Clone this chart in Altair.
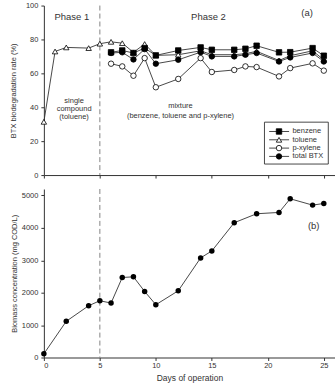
import altair as alt
import pandas as pd

# ---- data ----
days = [0, 1, 2, 4, 5, 6, 7, 8, 9, 10, 12, 14, 15, 17, 18, 19, 21, 22, 24, 25]
toluene = [31.4, 72.9, 75.3, 74.9, 77.5, 78.6, 77.8, 72.4, 77.3, 70.6, 71.0, 73.3,
           71.0, 71.0, 71.6, 73.0, 67.6, 70.4, 73.3, 68.0]
mix_days = [6, 7, 8, 9, 10, 12, 14, 15, 17, 18, 19, 21, 22, 24, 25]
benzene = [72.4, 73.5, 72.0, 74.9, 70.6, 73.5, 75.3, 73.9, 73.9, 74.5, 76.3, 72.4, 72.5, 74.9, 70.4]
pxylene = [65.7, 64.1, 58.6, 69.0, 51.8, 56.7, 69.0, 60.8, 62.0, 64.1, 63.7, 58.2, 63.1, 65.9, 61.6]
total_btx = [72.0, 72.4, 68.2, 74.3, 65.7, 68.0, 72.5, 70.0, 70.0, 71.0, 72.0, 67.0, 69.4, 72.0, 67.0]

bio_days = [0, 2, 4, 5, 6, 7, 8, 9, 10, 12, 14, 15, 17, 19, 21, 22, 24, 25]
biomass = [113, 1117, 1598, 1752, 1680, 2469, 2490, 2039, 1629, 2059, 3074, 3289,
           4160, 4436, 4477, 4898, 4703, 4754]

series_names = ["benzene", "toluene", "p-xylene", "total BTX"]
point_shapes = ["square", "triangle-up", "circle", "circle"]
point_fills = ["black", "white", "white", "black"]

phase_day = [5]

top_text = ["Phase 1", "Phase 2", "(a)"]
top_text_x = [2.5, 14.7, 23.5]
top_text_y = [93, 93, 95.5]
note_lines = ["single", "compound", "(toluene)", "mixture", "(benzene, toluene and p-xylene)"]
note_x = [2.7, 2.7, 2.7, 12.2, 12.2]
note_y = [43.5, 38.8, 34.1, 40.6, 34.7]
bottom_text = ["(b)"]
bottom_text_x = [24.1]
bottom_text_y = [4050]

# legend layout (in the top panel's data units)
LEG_BOX = (19.7, 25.4, 6.5, 31.2)      # day0, day1, rate0, rate1
LEG_ROW0, LEG_STEP = 25.7, 4.9
LEG_LINE = (20.12, 21.9)
LEG_MARK = 21.0
LEG_TEXT = 22.2

# ---- tables ----
rows = []
for d, v in zip(days, toluene):
    rows.append({"day": d, "rate": v, "series": "toluene"})
for name, vals in [("benzene", benzene), ("p-xylene", pxylene), ("total BTX", total_btx)]:
    for d, v in zip(mix_days, vals):
        rows.append({"day": d, "rate": v, "series": name})
top_df = pd.DataFrame(rows)
bio_df = pd.DataFrame({"day": bio_days, "biomass": biomass})
phase_df = pd.DataFrame({"day": phase_day})
top_text_df = pd.DataFrame({"t": top_text, "day": top_text_x, "rate": top_text_y})
note_df = pd.DataFrame({"t": note_lines, "day": note_x, "rate": note_y})
bot_text_df = pd.DataFrame({"t": bottom_text, "day": bottom_text_x, "biomass": bottom_text_y})
leg_df = pd.DataFrame({
    "series": series_names,
    "rate": [LEG_ROW0 - i * LEG_STEP for i in range(len(series_names))],
    "d0": [LEG_LINE[0]] * 4, "d1": [LEG_LINE[1]] * 4,
    "dm": [LEG_MARK] * 4, "dt": [LEG_TEXT] * 4,
})
box_df = pd.DataFrame({"d0": [LEG_BOX[0]], "d1": [LEG_BOX[1]], "r0": [LEG_BOX[2]], "r1": [LEG_BOX[3]]})

FONT = "Liberation Sans"
LINE = "#333333"
TXT = "#333333"
W = 292

xscale = alt.Scale(domain=[0, 26], nice=False, zero=False)
yscale_top = alt.Scale(domain=[0, 100], nice=False)
xaxis_top = alt.Axis(values=[0, 5, 10, 15, 20, 25], labels=False, title=None, tickSize=3)
yaxis_top = alt.Axis(values=[0, 20, 40, 60, 80, 100], title="BTX biodegradation rate (%)",
                     tickSize=3, titlePadding=8, labelOverlap=False)


def xt(field):
    return alt.X(field, scale=xscale, axis=xaxis_top)


def yt(field):
    return alt.Y(field, scale=yscale_top, axis=yaxis_top)


# ---- top panel ----
shape_enc = alt.Shape("series:N", scale=alt.Scale(domain=series_names, range=point_shapes), legend=None)
fill_enc = alt.Fill("series:N", scale=alt.Scale(domain=series_names, range=point_fills), legend=None)

rule_top = alt.Chart(phase_df).mark_rule(color="#777777", strokeDash=[5, 3], strokeWidth=0.9).encode(
    x=xt("day:Q"))

lines_top = alt.Chart(top_df).mark_line(color=LINE, strokeWidth=0.9).encode(
    x=xt("day:Q"), y=yt("rate:Q"), detail="series:N")

points_top = alt.Chart(top_df).mark_point(filled=True, stroke="black", strokeWidth=0.8, size=30, opacity=1).encode(
    x=xt("day:Q"), y=yt("rate:Q"), shape=shape_enc, fill=fill_enc)

text_top = alt.Chart(top_text_df).mark_text(font=FONT, fontSize=9.5, color=TXT).encode(
    x=xt("day:Q"), y=yt("rate:Q"), text="t:N")
note_top = alt.Chart(note_df).mark_text(font=FONT, fontSize=7.5, color=TXT).encode(
    x=xt("day:Q"), y=yt("rate:Q"), text="t:N")

# legend drawn in the panel
leg_box = alt.Chart(box_df).mark_rect(fill="white", stroke=LINE, strokeWidth=0.9).encode(
    x=xt("d0:Q"), x2="d1:Q", y=yt("r0:Q"), y2="r1:Q")
leg_lines = alt.Chart(leg_df).mark_rule(color=LINE, strokeWidth=0.9).encode(
    x=xt("d0:Q"), x2="d1:Q", y=yt("rate:Q"))
leg_pts = alt.Chart(leg_df).mark_point(filled=True, stroke="black", strokeWidth=0.8, size=30, opacity=1).encode(
    x=xt("dm:Q"), y=yt("rate:Q"), shape=shape_enc, fill=fill_enc)
leg_txt = alt.Chart(leg_df).mark_text(font=FONT, fontSize=7.5, color=TXT, align="left", baseline="middle").encode(
    x=xt("dt:Q"), y=yt("rate:Q"), text="series:N")

top = alt.layer(rule_top, lines_top, points_top, text_top, note_top,
                leg_box, leg_lines, leg_pts, leg_txt).properties(width=W, height=170)

# ---- bottom panel ----
x_bot = alt.X("day:Q", scale=xscale,
              axis=alt.Axis(values=[0, 5, 10, 15, 20, 25], title="Days of operation", tickSize=3,
                            labelPadding=1, titleFontSize=8.5, titlePadding=5, labelOverlap=False))
y_bot = alt.Y("biomass:Q", scale=alt.Scale(domain=[0, 5200], nice=False),
              axis=alt.Axis(values=[0, 1000, 2000, 3000, 4000, 5000], format="d",
                            title="Biomass concentration (mg COD/L)", tickSize=3, titlePadding=3,
                            labelOverlap=False))

rule_bot = alt.Chart(phase_df).mark_rule(color="#777777", strokeDash=[5, 3], strokeWidth=0.9).encode(x=x_bot)
line_bot = alt.Chart(bio_df).mark_line(color=LINE, strokeWidth=0.9).encode(x=x_bot, y=y_bot)
pts_bot = alt.Chart(bio_df).mark_point(filled=True, color="black", size=30, opacity=1).encode(x=x_bot, y=y_bot)
text_bot = alt.Chart(bot_text_df).mark_text(font=FONT, fontSize=9.5, color=TXT).encode(
    x=x_bot, y=y_bot, text="t:N")

bottom = alt.layer(rule_bot, line_bot, pts_bot, text_bot).properties(width=W, height=169)

chart = alt.vconcat(top, bottom, spacing=9).properties(
    padding={"left": 9, "top": 1, "right": 0, "bottom": 0},
    background="white",
).configure_view(stroke=None).configure_axis(
    grid=False, domainColor=LINE, tickColor=LINE, labelColor=TXT, titleColor=TXT,
    labelFont=FONT, titleFont=FONT, labelFontSize=7.5, titleFontSize=7.5, titleFontWeight="normal",
    labelPadding=3, domainWidth=1,
)

chart.save("out.html", embed_options={"renderer": "svg", "actions": False})
